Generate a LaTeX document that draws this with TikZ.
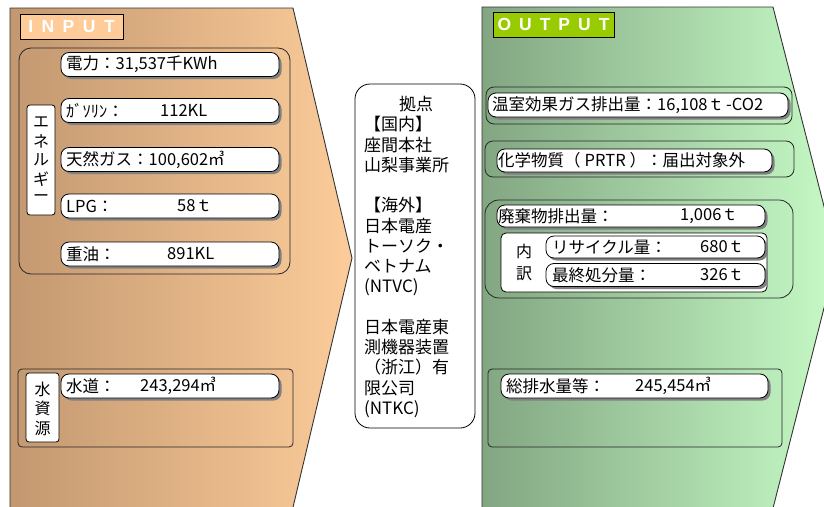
\documentclass[tikz,border=0pt]{standalone}
\usepackage{fontspec}
\setmainfont{Noto Sans CJK JP}
\newfontfamily\lblfont{Liberation Sans}
\usetikzlibrary{shadows}
\definecolor{inL}{RGB}{195,152,112}
\definecolor{inR}{RGB}{252,204,154}
\definecolor{outL}{RGB}{130,166,130}
\definecolor{outR}{RGB}{198,250,198}
\definecolor{peach}{RGB}{255,204,153}
\definecolor{lime}{RGB}{153,204,0}
\tikzset{
  pill/.style={draw=black, line width=0.8pt, fill=white, rounded corners=8pt, inner sep=0pt,
    drop shadow={shadow xshift=2.5pt, shadow yshift=-2.5pt, fill=black!50, opacity=1}},
  grp/.style={draw=black!85, line width=0.8pt, rounded corners=10pt, inner sep=0pt},
  vlbl/.style={draw=black, line width=0.8pt, fill=white, rounded corners=3pt, inner sep=0pt},
  txt/.style={anchor=west, inner sep=0pt, font=\fontsize{16.5}{19}\selectfont},
  ctxt/.style={inner sep=0pt, font=\fontsize{16}{19}\selectfont},
  head/.style={draw=black, line width=0.8pt, inner sep=0pt, text=white, font=\lblfont\bfseries\fontsize{17.5}{20}\selectfont}
}
\begin{document}
\begin{tikzpicture}[x=1pt,y=-1pt]
\useasboundingbox (0,0) rectangle (824,506);
\clip (0,0) rectangle (824,506);
% big arrows
\path[draw=black!80, line width=0.9pt, left color=inL, right color=inR]
  (10,8) -- (293,8) -- (352,258) -- (290,520) -- (10,520) -- cycle;
\path[draw=black!80, line width=0.9pt, left color=outL, right color=outR]
  (482,7) -- (773,7) -- (837,257) -- (770,520) -- (482,520) -- cycle;
% headers
\node[head, fill=peach, minimum width=103pt, minimum height=25pt] (inhead) at (71.5,26.5)
  {I\hspace{8.5pt}N\hspace{8.5pt}P\hspace{8.5pt}U\hspace{8.5pt}T};
\node[head, fill=lime, minimum width=121pt, minimum height=25pt] (outhead) at (553.5,24.5)
  {O\hspace{8pt}U\hspace{8pt}T\hspace{8pt}P\hspace{8pt}U\hspace{8pt}T};
% input groups
\node[grp, rounded corners=12pt, minimum width=271pt, minimum height=226pt] (eg) at (154.5,161) {};
\node[grp, rounded corners=4pt, minimum width=275pt, minimum height=78pt] (wg) at (155.5,408) {};
\node[vlbl, minimum width=28pt, minimum height=110pt] (el) at (41,160) {};
\node[ctxt] (el1) at (41,122) {エ};
\node[ctxt] (el2) at (41,141) {ネ};
\node[ctxt] (el3) at (41,160) {ル};
\node[ctxt] (el4) at (41,179) {ギ};
\node[ctxt] (el5) at (41,198) {ー};
\node[vlbl, minimum width=33pt, minimum height=69pt] (wl) at (42.5,407.5) {};
\node[ctxt] (wl1) at (42.5,389) {水};
\node[ctxt] (wl2) at (42.5,408) {資};
\node[ctxt] (wl3) at (42.5,428) {源};
% input pills
\node[pill, minimum width=218pt, minimum height=24pt] (p1) at (170,64.5) {};
\node[pill, minimum width=218pt, minimum height=24pt] (p2) at (170,110.5) {};
\node[pill, minimum width=218pt, minimum height=24pt] (p3) at (170,159.5) {};
\node[pill, minimum width=218pt, minimum height=24pt] (p4) at (170,206) {};
\node[pill, minimum width=218pt, minimum height=24pt] (p5) at (170,254) {};
\node[pill, minimum width=218pt, minimum height=24pt] (p6) at (170,386) {};
\node[txt] (t1) at (66,64.5) {電力：31,537千KWh};
\node[txt] (t2) at (66,110.5) {ｶﾞｿﾘﾝ：};
\node[txt] (v2) at (160,110.5) {112KL};
\node[txt] (t3) at (66,159.5) {天然ガス：100,602㎥};
\node[txt] (t4) at (66,206) {LPG：};
\node[txt] (v4) at (177,206) {58ｔ};
\node[txt] (t5) at (66,254) {重油：};
\node[txt] (v5) at (167,254) {891KL};
\node[txt] (t6) at (66,386) {水道：};
\node[txt] (v6) at (140,386) {243,294㎥};
% middle box
\node[draw=black, line width=0.8pt, fill=white, rounded corners=15pt, minimum width=120pt, minimum height=344pt, inner sep=0pt] (mid) at (415,256) {};
\node[anchor=north west, inner sep=0pt, text width=100pt, align=left, font=\fontsize{17}{20.27}\selectfont] (midt) at (364,96)
 {\makebox[104pt]{拠点}\\
  【国内】\\
  座間本社\\
  山梨事業所\\[20.27pt]
  【海外】\\
  日本電産\\
  トーソク・\\
  ベトナム\\
  (NTVC)\\[20.27pt]
  日本電産東\\
  測機器装置\\
  （浙江）有\\
  限公司\\
  (NTKC)};
% output groups
\node[grp, rounded corners=8pt, minimum width=306pt, minimum height=37pt] (g1) at (639,105.5) {};
\node[grp, rounded corners=8pt, minimum width=309pt, minimum height=36pt] (g2) at (639.5,159) {};
\node[grp, rounded corners=14pt, minimum width=308pt, minimum height=98pt] (g3) at (639,249) {};
\node[grp, rounded corners=4pt, minimum width=294pt, minimum height=78pt] (g4) at (635,408) {};
\node[vlbl, rounded corners=5pt, minimum width=266pt, minimum height=59pt] (bd) at (634,262.5) {};
\node[ctxt] (bd1) at (524,251) {内};
\node[ctxt] (bd2) at (524,274) {訳};
% output pills
\node[pill, minimum width=300pt, minimum height=24pt] (o1) at (638,105) {};
\node[pill, minimum width=275pt, minimum height=23pt] (o2) at (634.5,160.5) {};
\node[pill, minimum width=268pt, minimum height=22pt] (o3) at (631,216) {};
\node[pill, minimum width=219pt, minimum height=22pt] (o4) at (655.5,247) {};
\node[pill, minimum width=219pt, minimum height=23pt] (o5) at (655.5,275) {};
\node[pill, minimum width=267pt, minimum height=24pt] (o6) at (634.5,386) {};
\node[txt] (u1) at (492,105) {温室効果ガス排出量：16,108ｔ\hspace{2pt}-CO2};
\node[txt] (u2) at (498,160.5) {化学物質（\hspace{4pt}PRTR\hspace{4pt}）：届出対象外};
\node[txt] (u3) at (498,216) {廃棄物排出量：};
\node[txt] (w3) at (680,216) {1,006ｔ};
\node[txt] (u4) at (552,247) {リサイクル量：};
\node[txt] (w4) at (700,247) {680ｔ};
\node[txt] (u5) at (552,275) {最終処分量：};
\node[txt] (w5) at (700,275) {326ｔ};
\node[txt] (u6) at (506,386) {総排水量等：};
\node[txt] (w6) at (635,386) {245,454㎥};
\end{tikzpicture}
\end{document}
